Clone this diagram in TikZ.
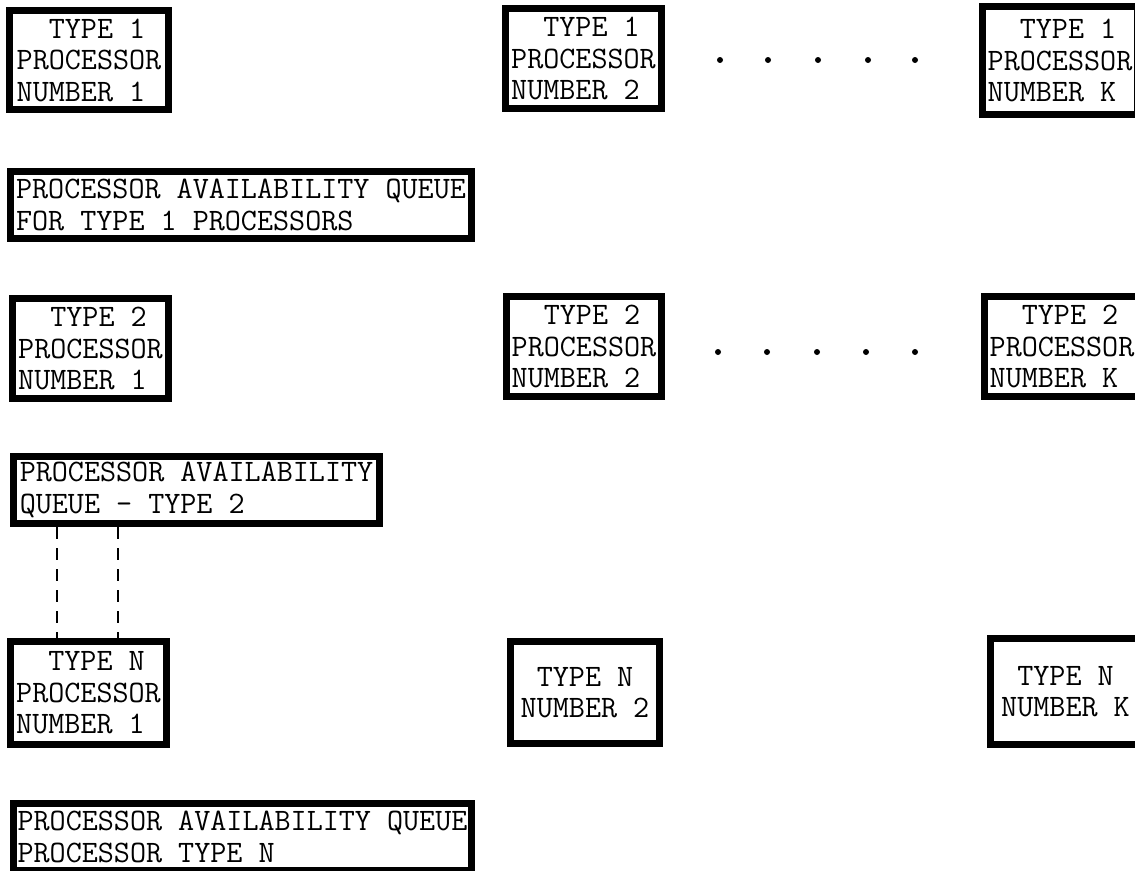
\documentclass[tikz,border=0pt]{standalone}
\usepackage{fontspec}
\begin{document}
\begin{tikzpicture}[x=1pt,y=-1pt,
  box/.style={draw, line width=6.8pt, align=left, inner sep=0pt,
    font=\ttfamily\fontsize{31.2}{31.5}\selectfont},
  cbox/.style={box, align=center},
  dotmark/.style={circle, fill, draw=none, inner sep=0pt, minimum size=6pt},
  link/.style={line width=2.6pt, dash pattern=on 12pt off 9pt}]
\useasboundingbox (0,0) rectangle (1135,870);
\clip (0,0) rectangle (1135,870);
% row 1
\node[box, minimum width=159.5pt, minimum height=99.5pt] (a1) at (89,60)
  {\hphantom{TY}TYPE 1\\PROCESSOR\\NUMBER 1};
\node[box, minimum width=156.5pt, minimum height=100.5pt] (a2) at (583.5,58.5)
  {\hphantom{TY}TYPE 1\\PROCESSOR\\NUMBER 2};
\node[box, minimum width=155.5pt, minimum height=108.5pt] (ak) at (1060,60.5)
  {\hphantom{TY}TYPE 1\\PROCESSOR\\NUMBER K};
\foreach \i/\x in {1/720,2/768,3/818,4/868,5/915}
  \node[dotmark] (r1d\i) at (\x,60) {};
\node[box, minimum width=461.5pt, minimum height=67.5pt] (q1) at (241,205)
  {PROCESSOR AVAILABILITY QUEUE\\FOR TYPE 1 PROCESSORS};
% row 2
\node[box, minimum width=156.5pt, minimum height=100.5pt] (b1) at (90.5,348.5)
  {\hphantom{TY}TYPE 2\\PROCESSOR\\NUMBER 1};
\node[box, minimum width=155.5pt, minimum height=100.5pt] (b2) at (584,346.5)
  {\hphantom{TY}TYPE 2\\PROCESSOR\\NUMBER 2};
\node[box, minimum width=155.5pt, minimum height=100.5pt] (bk) at (1062,346.5)
  {\hphantom{TY}TYPE 2\\PROCESSOR\\NUMBER K};
\foreach \i/\x in {1/718,2/767,3/817,4/866,5/915}
  \node[dotmark] (r2d\i) at (\x,352) {};
\node[box, minimum width=366.5pt, minimum height=67.5pt] (q2) at (196.5,490)
  {PROCESSOR AVAILABILITY\\QUEUE - TYPE 2};
% row N
\node[box, minimum width=156.5pt, minimum height=103.5pt] (c1) at (88.5,693)
  {\hphantom{TY}TYPE N\\PROCESSOR\\NUMBER 1};
\node[cbox, minimum width=149.5pt, minimum height=102.5pt] (c2) at (585,692.5)
  {TYPE N\\NUMBER 2};
\node[cbox, minimum width=150.5pt, minimum height=106.5pt] (ck) at (1065.5,691.5)
  {TYPE N\\NUMBER K};
\node[box, minimum width=458.5pt, minimum height=67.5pt] (qn) at (242.5,837)
  {PROCESSOR AVAILABILITY QUEUE\\PROCESSOR TYPE N};
% dashed links
\coordinate (d1) at (57,0);
\coordinate (d2) at (118,0);
\draw[link] (q2.south -| d1) -- (c1.north -| d1);
\draw[link] (q2.south -| d2) -- (c1.north -| d2);
\end{tikzpicture}
\end{document}
